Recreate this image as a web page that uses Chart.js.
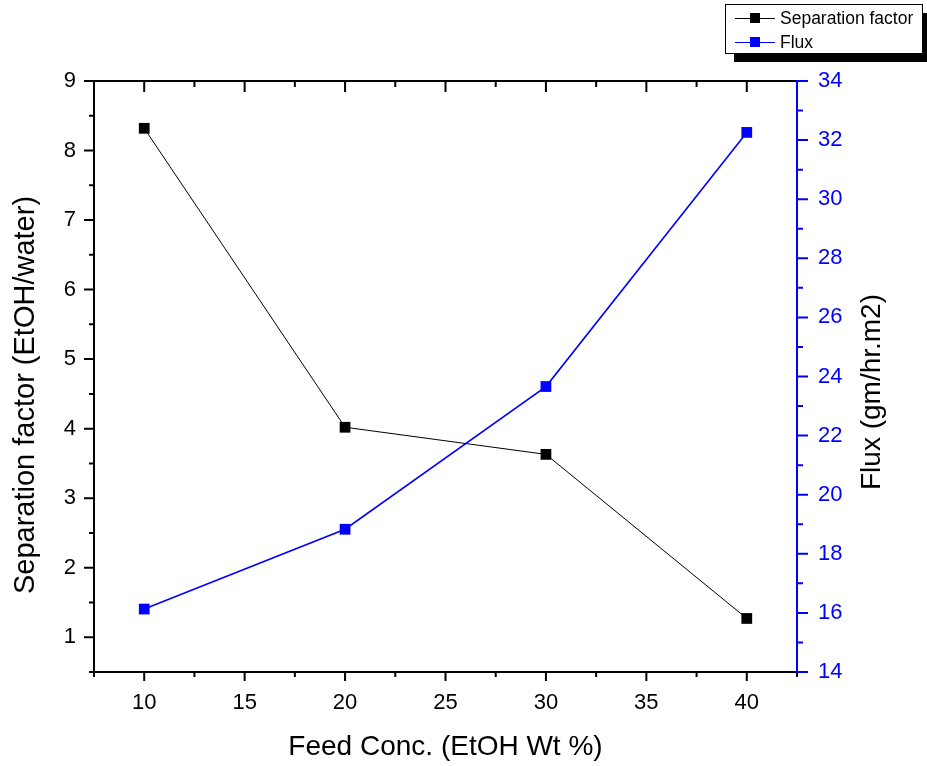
<!DOCTYPE html>
<html>
<head>
<meta charset="utf-8">
<script src="https://cdn.jsdelivr.net/npm/chart.js@4"></script>
<style>
  html, body { margin: 0; padding: 0; background: #fff; }
  canvas { display: block; }
</style>
</head>
<body>
<canvas id="chart" width="927" height="766"></canvas>
<script>
const feedConc = [10, 20, 30, 40];
const separationFactor = [8.32, 4.02, 3.63, 1.27];
const flux = [16.13, 18.83, 23.66, 32.26];

const xTicks = [10, 15, 20, 25, 30, 35, 40];
const leftTicks = [1, 2, 3, 4, 5, 6, 7, 8, 9];
const rightTicks = [14, 16, 18, 20, 22, 24, 26, 28, 30, 32, 34];
const xMinor = [7.5, 12.5, 17.5, 22.5, 27.5, 32.5, 37.5, 42.5];
const leftMinor = [0.5, 1.5, 2.5, 3.5, 4.5, 5.5, 6.5, 7.5, 8.5];
const rightMinor = [15, 17, 19, 21, 23, 25, 27, 29, 31, 33];

const leftTitle = 'Separation factor (EtOH/water)';
const rightTitle = 'Flux (gm/hr.m2)';

const BLUE = '#0000ff';
const FONT = 'Liberation Sans, Arial, sans-serif';

function verticalText(ctx, text, x, y, size) {
  ctx.save();
  ctx.fillStyle = '#000';
  ctx.font = size + 'px ' + FONT;
  ctx.textAlign = 'center';
  ctx.textBaseline = 'middle';
  ctx.translate(x, y);
  ctx.rotate(-Math.PI / 2);
  ctx.fillText(text, 0, 0);
  ctx.restore();
}

// axis lines, major/minor ticks (top axis ticks point inward)
const axesPlugin = {
  id: 'axes',
  afterDatasetsDraw(chart) {
    const { ctx, chartArea: a, scales } = chart;
    const x = scales.x, yl = scales.y, yr = scales.y1;
    ctx.save();
    ctx.lineWidth = 2;
    ctx.lineCap = 'butt';

    ctx.strokeStyle = '#000';
    ctx.beginPath();
    ctx.moveTo(a.left, a.top - 1); ctx.lineTo(a.left, a.bottom + 1);
    ctx.moveTo(a.left - 1, a.bottom); ctx.lineTo(a.right, a.bottom);
    ctx.moveTo(a.left - 1, a.top); ctx.lineTo(a.right, a.top);
    xTicks.forEach(v => {
      const px = x.getPixelForValue(v);
      ctx.moveTo(px, a.bottom); ctx.lineTo(px, a.bottom + 9);
      ctx.moveTo(px, a.top); ctx.lineTo(px, a.top + 11);
    });
    xMinor.forEach(v => {
      const px = x.getPixelForValue(v);
      ctx.moveTo(px, a.bottom); ctx.lineTo(px, a.bottom + 5);
      ctx.moveTo(px, a.top); ctx.lineTo(px, a.top + 6);
    });
    leftTicks.forEach(v => {
      const py = yl.getPixelForValue(v);
      ctx.moveTo(a.left, py); ctx.lineTo(a.left - 10, py);
    });
    leftMinor.forEach(v => {
      const py = yl.getPixelForValue(v);
      ctx.moveTo(a.left, py); ctx.lineTo(a.left - 5, py);
    });
    ctx.stroke();

    ctx.strokeStyle = BLUE;
    ctx.beginPath();
    ctx.moveTo(a.right, a.top - 1); ctx.lineTo(a.right, a.bottom + 1);
    rightTicks.forEach(v => {
      const py = yr.getPixelForValue(v);
      ctx.moveTo(a.right, py); ctx.lineTo(a.right + 11, py);
    });
    rightMinor.forEach(v => {
      const py = yr.getPixelForValue(v);
      ctx.moveTo(a.right, py); ctx.lineTo(a.right + 6, py);
    });
    ctx.stroke();
    ctx.restore();

    // both y titles read bottom-to-top
    verticalText(ctx, leftTitle, 26, 395, 29);
    verticalText(ctx, rightTitle, 872, 392, 28);
  }
};

// boxed legend with drop shadow, top right
const legendPlugin = {
  id: 'boxLegend',
  afterDraw(chart) {
    const { ctx } = chart;
    const bx = 725, by = 4, bw = 197, bh = 49;
    ctx.save();
    ctx.fillStyle = '#000';
    ctx.fillRect(bx + 9, by + 9, bw, bh);
    ctx.fillStyle = '#fff';
    ctx.fillRect(bx, by, bw, bh);
    ctx.strokeStyle = '#000';
    ctx.lineWidth = 1;
    ctx.strokeRect(bx + 0.5, by + 0.5, bw, bh);

    ctx.font = '17.5px ' + FONT;
    ctx.textBaseline = 'middle';
    chart.data.datasets.forEach((ds, i) => {
      const cy = 18 + i * 24;
      ctx.strokeStyle = ds.borderColor;
      ctx.lineWidth = 1;
      ctx.beginPath();
      ctx.moveTo(735, cy + 0.5); ctx.lineTo(775, cy + 0.5);
      ctx.stroke();
      ctx.fillStyle = ds.backgroundColor;
      ctx.fillRect(750, cy - 5, 10, 10);
      ctx.fillStyle = '#000';
      ctx.fillText(ds.label, 780, cy + 1);
    });
    ctx.restore();
  }
};

const tickFont = { family: FONT, size: 22 };
const titleFont = { family: FONT, size: 28 };
const hiddenGrid = { display: true, drawOnChartArea: false, color: 'transparent', tickLength: 10 };

new Chart(document.getElementById('chart'), {
  type: 'line',
  data: {
    datasets: [
      {
        label: 'Separation factor',
        data: feedConc.map((v, i) => ({ x: v, y: separationFactor[i] })),
        yAxisID: 'y',
        borderColor: '#000',
        backgroundColor: '#000',
        borderWidth: 1,
        pointStyle: 'rect',
        pointRadius: 7.6,
        pointBorderWidth: 0
      },
      {
        label: 'Flux',
        data: feedConc.map((v, i) => ({ x: v, y: flux[i] })),
        yAxisID: 'y1',
        borderColor: BLUE,
        backgroundColor: BLUE,
        borderWidth: 1.6,
        pointStyle: 'rect',
        pointRadius: 7.6,
        pointBorderWidth: 0
      }
    ]
  },
  options: {
    responsive: false,
    animation: false,
    layout: { padding: { top: 81, left: 0, right: 0, bottom: 0 } },
    plugins: { legend: { display: false }, tooltip: { enabled: false } },
    scales: {
      x: {
        type: 'linear',
        min: 7.5,
        max: 42.5,
        afterBuildTicks: s => { s.ticks = xTicks.map(v => ({ value: v })); },
        afterFit: s => { s.height = 94; },
        grid: hiddenGrid,
        border: { display: false },
        ticks: { color: '#000', font: tickFont, padding: 8, maxRotation: 0 },
        title: { display: true, text: 'Feed Conc. (EtOH Wt %)', color: '#000', font: titleFont, padding: { bottom: 2 } }
      },
      y: {
        position: 'left',
        min: 0.5,
        max: 9,
        afterBuildTicks: s => { s.ticks = leftTicks.map(v => ({ value: v })); },
        afterFit: s => { s.width = 94; },
        grid: hiddenGrid,
        border: { display: false },
        ticks: { color: '#000', font: tickFont, padding: 8 },
        title: { display: false }
      },
      y1: {
        position: 'right',
        min: 14,
        max: 34,
        afterBuildTicks: s => { s.ticks = rightTicks.map(v => ({ value: v })); },
        afterFit: s => { s.width = 130; },
        grid: hiddenGrid,
        border: { display: false },
        ticks: { color: BLUE, font: tickFont, padding: 11 },
        title: { display: false }
      }
    }
  },
  plugins: [axesPlugin, legendPlugin]
});
</script>
</body>
</html>
